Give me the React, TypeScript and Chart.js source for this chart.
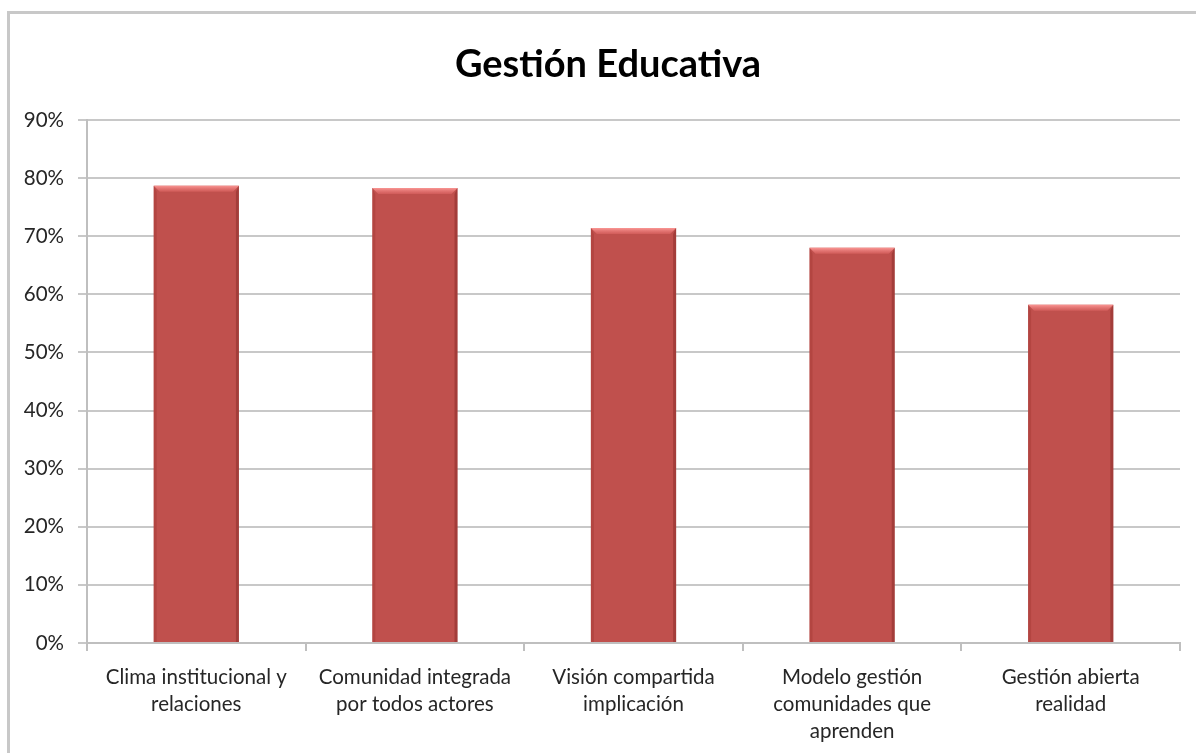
import React, { useEffect, useRef } from "react";
import { Chart, registerables } from "chart.js";

Chart.register(...registerables);

const chartTitle = "Gestión Educativa";
const categories: string[][] = [
  ["Clima institucional y", "relaciones"],
  ["Comunidad integrada", "por todos actores"],
  ["Visión compartida", "implicación"],
  ["Modelo gestión", "comunidades que", "aprenden"],
  ["Gestión abierta", "realidad"],
];
const values: number[] = [78.7, 78.3, 71.4, 68.0, 58.2];
const yMin = 0;
const yMax = 90;
const yStep = 10;

const FONT = "Lato, 'Open Sans', sans-serif";

const unclipLabels = {
  id: "unclipLabels",
  afterLayout(chart: any) {
    const y = chart.scales.y;
    if (y) y._computeLabelArea = () => undefined;
  },
};

const bevelPlugin = {
  id: "bevel",
  afterDatasetsDraw(chart: any) {
    const ctx = chart.ctx;
    const meta = chart.getDatasetMeta(0);
    meta.data.forEach((bar: any) => {
      const { x, y, base, width } = bar.getProps(["x", "y", "base", "width"], true);
      const left = x - width / 2;
      const right = x + width / 2;
      const b = 6;
      ctx.save();
      const g = ctx.createLinearGradient(0, y, 0, y + b);
      g.addColorStop(0, "rgba(250,150,148,1)");
      g.addColorStop(1, "rgba(220,100,98,0.6)");
      ctx.beginPath();
      ctx.moveTo(left, y);
      ctx.lineTo(right, y);
      ctx.lineTo(right - b, y + b);
      ctx.lineTo(left + b, y + b);
      ctx.closePath();
      ctx.fillStyle = g;
      ctx.fill();
      ctx.beginPath();
      ctx.moveTo(right, y);
      ctx.lineTo(right, base);
      ctx.lineTo(right - 3, base);
      ctx.lineTo(right - 3, y + b);
      ctx.closePath();
      ctx.fillStyle = "rgba(110,25,22,0.35)";
      ctx.fill();
      ctx.beginPath();
      ctx.moveTo(left, y);
      ctx.lineTo(left + 3, y + b);
      ctx.lineTo(left + 3, base);
      ctx.lineTo(left, base);
      ctx.closePath();
      ctx.fillStyle = "rgba(140,35,33,0.25)";
      ctx.fill();
      ctx.restore();
    });
  },
};

export default function App() {
  const ref = useRef<HTMLCanvasElement | null>(null);
  useEffect(() => {
    if (!ref.current) return;
    const chart = new Chart(ref.current, {
      type: "bar",
      data: {
        labels: categories,
        datasets: [
          {
            data: values,
            backgroundColor: "#C0504D",
            borderWidth: 0,
            barPercentage: 0.39,
            categoryPercentage: 1,
          },
        ],
      },
      options: {
        animation: false,
        responsive: false,
        devicePixelRatio: 1,
        layout: { padding: { left: 36, right: 16, top: 0, bottom: 0 } },
        plugins: {
          legend: { display: false },
          tooltip: { enabled: false },
          title: {
            display: true,
            text: chartTitle,
            color: "#000000",
            font: { family: FONT, size: 38, weight: "bold", lineHeight: 1.2 },
            padding: { top: 42.2, bottom: 32.2 },
          },
        },
        scales: {
          x: {
            afterFit: (s: any) => {
              s.height = 110;
            },
            grid: {
              display: true,
              drawOnChartArea: false,
              drawTicks: true,
              tickLength: 8,
              color: "#bfbfbf",
              lineWidth: 2,
              offset: true,
            },
            border: { display: true, color: "#bfbfbf", width: 2 },
            ticks: {
              color: "#262626",
              font: { family: FONT, size: 20.5, lineHeight: 1.317 },
              padding: 12.5,
              maxRotation: 0,
              autoSkip: false,
            },
          },
          y: {
            min: yMin,
            max: yMax,
            afterFit: (s: any) => {
              s.width = 51;
            },
            grid: {
              color: "#c8c8c8",
              lineWidth: 2,
              drawTicks: true,
              tickLength: 9,
            },
            border: { display: true, color: "#bfbfbf", width: 2 },
            ticks: {
              stepSize: yStep,
              color: "#262626",
              font: { family: FONT, size: 20.5 },
              padding: 14,
              callback: (v: any) => `${v}%`,
            },
          },
        },
      },
      plugins: [unclipLabels, bevelPlugin],
    });
    return () => chart.destroy();
  }, []);

  return (
    <div style={{ position: "absolute", left: 0, top: 0, width: 1196, height: 753, overflow: "hidden", background: "#ffffff" }}>
      <div
        style={{
          position: "absolute",
          left: 7,
          top: 11,
          width: 1400,
          height: 1000,
          border: "3px solid #c8c8c8",
          boxSizing: "border-box",
        }}
      />
      <canvas ref={ref} width={1196} height={753} style={{ position: "absolute", left: 0, top: 0 }} />
    </div>
  );
}
